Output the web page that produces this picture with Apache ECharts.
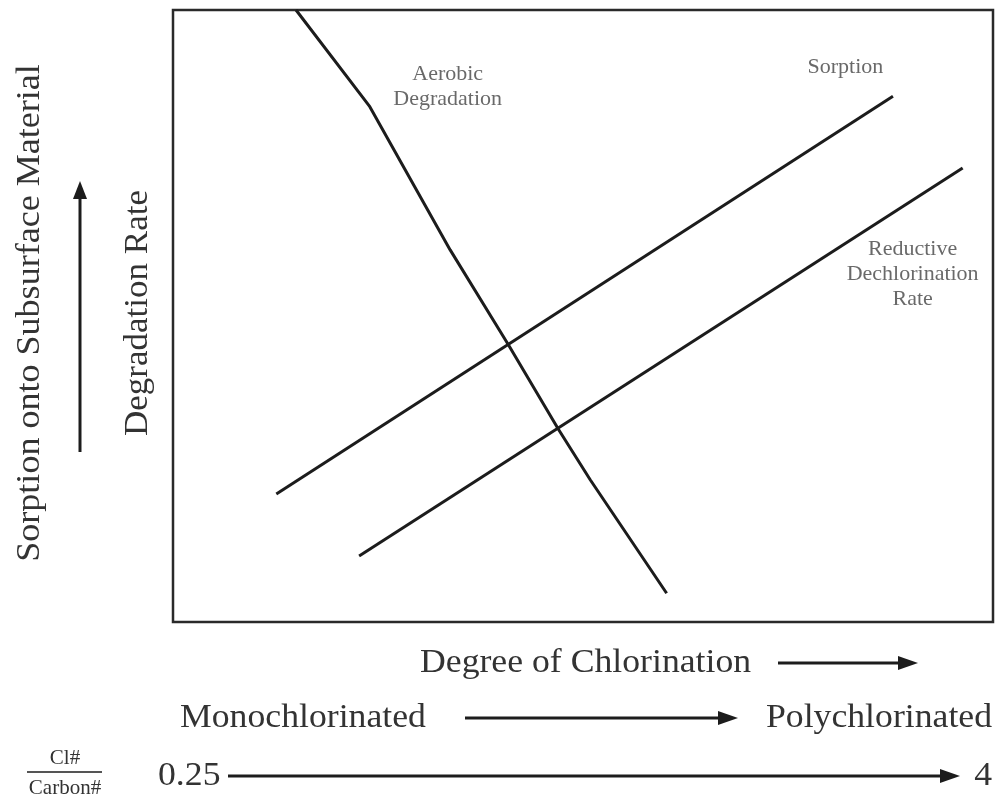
<!DOCTYPE html>
<html>
<head>
<meta charset="utf-8">
<script src="https://cdn.jsdelivr.net/npm/echarts@6/dist/echarts.min.js"></script>
<style>
  html, body { margin: 0; padding: 0; background: #fff; }
  #chart { width: 1000px; height: 800px; }
</style>
</head>
<body>
<div id="chart"></div>
<script>
// values, in plot units (0-100 both ways)
var aerobicX = [15.0, 24.0, 33.8, 40.9, 47.0, 50.9, 60.2];
var aerobicY = [100, 84.2, 60.8, 45.3, 31.5, 23.2, 4.7];
var sorptionX = [12.6, 87.8];
var sorptionY = [20.9, 85.9];
var reductiveX = [22.7, 96.3];
var reductiveY = [10.8, 74.2];

var lineLabels = ['Aerobic\nDegradation', 'Sorption', 'Reductive\nDechlorination\nRate'];
var labelX = [33.5, 82.0, 90.2];
var labelY = [87.5, 90.7, 56.9];

var serif = '"Liberation Serif", "DejaVu Serif", serif';
var ink = '#1c1c1c';
var big = '34px ' + serif;

function pairs(xs, ys) {
  return xs.map(function (x, i) { return [x, ys[i]]; });
}

var myChart = echarts.init(document.getElementById('chart'));

function lineSeries(name, xs, ys) {
  return {
    name: name,
    type: 'line',
    data: pairs(xs, ys),
    symbol: 'none',
    smooth: false,
    lineStyle: { color: ink, width: 3 },
    silent: true
  };
}

// text helper for the captions round the plot
function caption(text, x, y, align, rot, font, sx) {
  return {
    type: 'text', x: x, y: y, rotation: rot || 0, scaleX: sx || 1.05,
    style: { text: text, font: font || big, fill: '#333', align: align, verticalAlign: 'middle' }
  };
}

var option = {
  animation: false,
  backgroundColor: '#fff',
  grid: {
    left: 173, top: 10, width: 820, height: 612,
    show: true, borderColor: '#2a2a2a', borderWidth: 2.5, backgroundColor: 'transparent'
  },
  xAxis: {
    type: 'value', min: 0, max: 100,
    axisLine: { show: false }, axisTick: { show: false },
    axisLabel: { show: false }, splitLine: { show: false }
  },
  yAxis: {
    type: 'value', min: 0, max: 100,
    axisLine: { show: false }, axisTick: { show: false },
    axisLabel: { show: false }, splitLine: { show: false }
  },
  series: [
    lineSeries('Aerobic Degradation', aerobicX, aerobicY),
    lineSeries('Sorption', sorptionX, sorptionY),
    lineSeries('Reductive Dechlorination Rate', reductiveX, reductiveY),
    {
      type: 'scatter',
      symbolSize: 0,
      silent: true,
      data: pairs(labelX, labelY).map(function (p, i) {
        return {
          value: p,
          label: {
            show: true, position: 'inside', formatter: lineLabels[i],
            fontFamily: serif, fontSize: 22, color: '#444', lineHeight: 25, align: 'center'
          }
        };
      })
    }
  ],
  graphic: [
    // left side titles
    caption('Sorption onto Subsurface Material', 30, 313, 'center', Math.PI / 2, null, 1.06),
    { type: 'line', shape: { x1: 80, y1: 452, x2: 80, y2: 196 }, style: { stroke: ink, lineWidth: 3 } },
    { type: 'polygon', shape: { points: [[80, 181], [73, 199], [87, 199]] }, style: { fill: ink } },
    caption('Degradation Rate', 138, 313, 'center', Math.PI / 2, null, 1.03),

    // bottom rows
    caption('Degree of Chlorination', 420, 663, 'left'),
    { type: 'line', shape: { x1: 778, y1: 663, x2: 902, y2: 663 }, style: { stroke: ink, lineWidth: 3 } },
    { type: 'polygon', shape: { points: [[918, 663], [898, 656], [898, 670]] }, style: { fill: ink } },

    caption('Monochlorinated', 180, 718, 'left'),
    { type: 'line', shape: { x1: 465, y1: 718, x2: 722, y2: 718 }, style: { stroke: ink, lineWidth: 3 } },
    { type: 'polygon', shape: { points: [[738, 718], [718, 711], [718, 725]] }, style: { fill: ink } },
    caption('Polychlorinated', 992, 718, 'right'),

    caption('Cl#', 65, 758, 'center', 0, '21px ' + serif, 1),
    { type: 'line', shape: { x1: 27, y1: 772, x2: 102, y2: 772 }, style: { stroke: ink, lineWidth: 1.5 } },
    caption('Carbon#', 65, 788, 'center', 0, '21px ' + serif, 1),
    caption('0.25', 158, 776, 'left'),
    { type: 'line', shape: { x1: 228, y1: 776, x2: 944, y2: 776 }, style: { stroke: ink, lineWidth: 3 } },
    { type: 'polygon', shape: { points: [[960, 776], [940, 769], [940, 783]] }, style: { fill: ink } },
    caption('4', 992, 776, 'right')
  ]
};

myChart.setOption(option);
</script>
</body>
</html>
